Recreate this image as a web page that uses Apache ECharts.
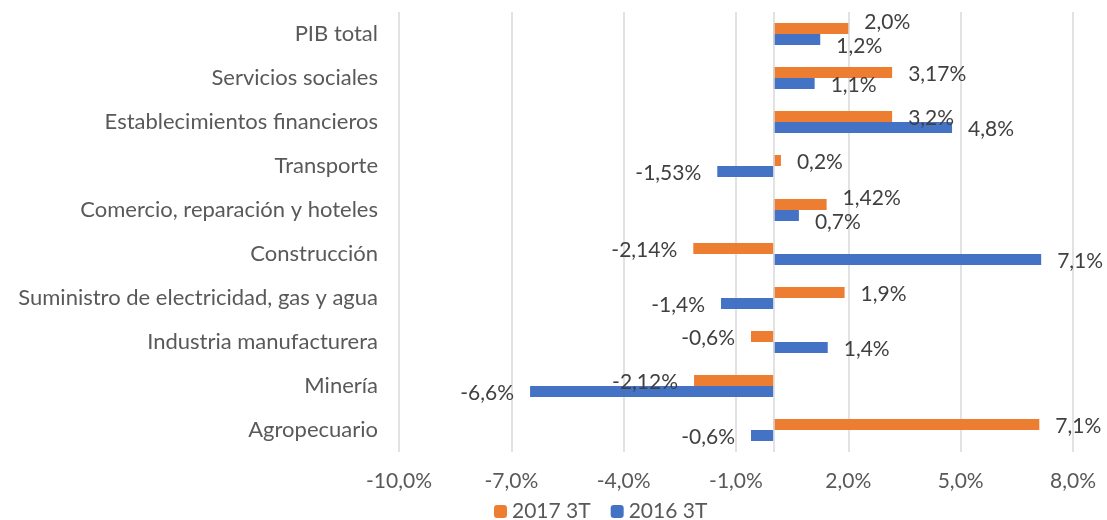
<!DOCTYPE html>
<html lang="es">
<head>
  <meta charset="UTF-8">
  <title>PIB por sectores</title>
  <script src="https://cdn.jsdelivr.net/npm/echarts@6/dist/echarts.min.js"></script>
</head>
<body style="margin:0;background:#fff">
<div id="main" style="width:1107px;height:520px"></div>
<script>
  // categorias de abajo hacia arriba (eje de categorias invertido en Excel)
  var sectores = ['Agropecuario','Minería','Industria manufacturera','Suministro de electricidad, gas y agua',
    'Construcción','Comercio, reparación y hoteles','Transporte','Establecimientos financieros',
    'Servicios sociales','PIB total'];
  var v2017 = [7.1, -2.12, -0.6, 1.9, -2.14, 1.42, 0.2, 3.17, 3.17, 2.0];
  var v2016 = [-0.6, -6.5, 1.45, -1.4, 7.15, 0.68, -1.5, 4.77, 1.1, 1.25];
  var txt2017 = ['7,1%','-2,12%','-0,6%','1,9%','-2,14%','1,42%','0,2%','3,2%','3,17%','2,0%'];
  var txt2016 = ['-0,6%','-6,6%','1,4%','-1,4%','7,1%','0,7%','-1,53%','4,8%','1,1%','1,2%'];
  var ticks = ['-10,0%','-7,0%','-4,0%','-1,0%','2,0%','5,0%','8,0%'];

  var font = 'Lato, sans-serif';
  var gap = 16;

  function barData(vals){
    return vals.map(function(v){
      return {value: v, label: {position: v < 0 ? 'left' : 'right'}};
    });
  }

  // si la etiqueta choca con la de la otra serie, se separan un poco (como en Excel)
  function nudge(mine, other, mineTxt, otherTxt, up){
    return function(p){
      var i = p.dataIndex, r = p.rect, L = p.labelRect, v = mine[i];
      if (!v) return {dy: 2};
      var k = r.width / Math.abs(v);
      var x0 = v < 0 ? r.x + r.width : r.x;
      var oe = x0 + other[i] * k;
      var ow = L.width * otherTxt[i].length / mineTxt[i].length;
      var ox1 = other[i] < 0 ? oe - gap - ow : oe + gap;
      var hit = ox1 < L.x + L.width && ox1 + ow > L.x;
      return {dy: hit ? (up ? -6 : 7) : 2};
    };
  }

  var main = echarts.init(document.getElementById('main'));
  main.setOption({
    animation: false,
    textStyle: {fontFamily: font},
    grid: {left: 399, right: 34, top: 12, bottom: 68},
    legend: {
      top: 496, left: 489,
      itemWidth: 13, itemHeight: 13, itemGap: 20,
      textStyle: {color: '#595959', fontSize: 21, fontFamily: font},
      data: ['2017 3T', '2016 3T']
    },
    xAxis: {
      type: 'value', min: -10, max: 8, interval: 3,
      axisLine: {show: false}, axisTick: {show: false},
      splitLine: {lineStyle: {color: '#d9d9d9', width: 1.5}},
      axisLabel: {
        color: '#595959', fontSize: 21, margin: 19,
        formatter: function(v){ return ticks[Math.round((v + 10) / 3)]; }
      }
    },
    yAxis: {
      type: 'category', data: sectores,
      axisLine: {show: false}, axisTick: {show: false},
      axisLabel: {color: '#595959', fontSize: 22, margin: 21}
    },
    series: [{
      name: '2017 3T', type: 'bar', data: barData(v2017),
      barGap: '0%', barCategoryGap: '50%',
      itemStyle: {color: '#ED7D31'},
      label: {show: true, distance: gap, color: '#404040', fontSize: 21,
        formatter: function(p){ return txt2017[p.dataIndex]; }},
      labelLayout: nudge(v2017, v2016, txt2017, txt2016, true),
      markLine: {
        silent: true, symbol: 'none', label: {show: false},
        lineStyle: {color: '#d9d9d9', width: 1.5, type: 'solid'},
        data: [{xAxis: 0}]
      }
    }, {
      name: '2016 3T', type: 'bar', data: barData(v2016),
      itemStyle: {color: '#4472C4'},
      label: {show: true, distance: gap, color: '#404040', fontSize: 21,
        formatter: function(p){ return txt2016[p.dataIndex]; }},
      labelLayout: nudge(v2016, v2017, txt2016, txt2017, false)
    }]
  });
</script>
</body>
</html>
